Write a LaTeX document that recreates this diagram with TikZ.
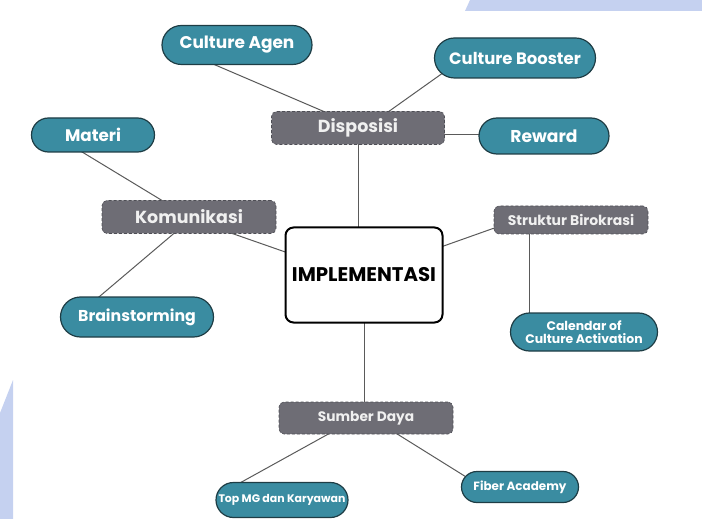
\documentclass[tikz,border=0pt]{standalone}
\usepackage{fontspec}
\setmainfont{Poppins}
\usetikzlibrary{shapes.misc,calc,backgrounds}
\definecolor{tealbox}{HTML}{3A8CA1}
\definecolor{tealedge}{HTML}{1E3D45}
\definecolor{graybox}{HTML}{6E6D75}
\definecolor{grayedge}{HTML}{4E4E55}
\definecolor{bgblue}{HTML}{C5D1F0}
\definecolor{linkc}{HTML}{5A5A5A}
\begin{document}
\begin{tikzpicture}[x=1bp,y=-1bp,
  tealnode/.style={rounded rectangle, fill=tealbox, draw=tealedge, line width=1.2bp, text=white, inner sep=0pt},
  graynode/.style={rectangle, rounded corners=5bp, fill=graybox, draw=grayedge, densely dashed, line width=0.6bp, text=white!94!black, inner sep=0pt},
  mainnode/.style={rectangle, rounded corners=8bp, fill=white, draw=black, line width=2bp, inner sep=0pt},
  link/.style={draw=linkc, line width=1bp}]
\useasboundingbox (0,0) rectangle (702,519);
\fill[bgblue] (465,11) -- (470,0) -- (702,0) -- (702,11) -- cycle;
\fill[bgblue] (0,413) -- (13,380) -- (13,519) -- (0,519) -- cycle;

\node[mainnode, minimum width=157bp, minimum height=95bp, font=\bfseries\fontsize{19.8}{22}\selectfont] (impl) at (364,275) {IMPLEMENTASI};

\node[graynode, minimum width=173bp, minimum height=33bp, font=\bfseries\fontsize{17.5}{20}\selectfont] (dis) at (358,128) {Disposisi};
\node[graynode, minimum width=174bp, minimum height=33bp, font=\bfseries\fontsize{17.5}{20}\selectfont] (kom) at (189,217) {Komunikasi};
\node[graynode, minimum width=154bp, minimum height=28bp, font=\bfseries\fontsize{14}{16}\selectfont] (sb) at (571,220) {Struktur Birokrasi};
\node[graynode, minimum width=174bp, minimum height=32bp, font=\bfseries\fontsize{13.8}{16}\selectfont] (sd) at (366,418) {Sumber Daya};

\node[tealnode, minimum width=150bp, minimum height=39bp, font=\bfseries\fontsize{17}{20}\selectfont] (ca) at (237,45) {Culture Agen};
\node[tealnode, minimum width=161bp, minimum height=40bp, font=\bfseries\fontsize{16.5}{19}\selectfont] (cb) at (515,58) {Culture Booster};
\node[tealnode, minimum width=130bp, minimum height=36bp, font=\bfseries\fontsize{17.2}{20}\selectfont] (rw) at (544,136) {Reward};
\node[tealnode, minimum width=123bp, minimum height=34bp, font=\bfseries\fontsize{16.8}{19}\selectfont] (mat) at (93,135) {Materi};
\node[tealnode, minimum width=153bp, minimum height=40bp, font=\bfseries\fontsize{15.8}{18}\selectfont] (br) at (137,317) {Brainstorming};
\node[tealnode, minimum width=147bp, minimum height=38bp, font=\bfseries\fontsize{12.5}{13}\selectfont, align=center] (cal) at (584,332) {Calendar of\\Culture Activation};
\node[tealnode, minimum width=132bp, minimum height=35bp, font=\bfseries\fontsize{11}{12}\selectfont] (tm) at (282,500) {Top MG dan Karyawan};
\node[tealnode, minimum width=117bp, minimum height=31bp, font=\bfseries\fontsize{12}{14}\selectfont] (fa) at (520,487) {Fiber Academy};

\begin{scope}[on background layer]
\draw[link] ($(ca)+(-29.6,16.6)$) -- ($(dis)+(-27.4,-13.6)$);
\draw[link] ($(dis)+(24.8,-12.3)$) -- ($(cb)+(-69.8,13.3)$);
\draw[link] ($(dis)+(82,7)$) -- ($(rw)+(-59,-1)$);
\draw[link] ($(dis)+(0,10)$) -- ($(impl)+(-6,-40)$);
\draw[link] ($(mat)+(-15,14.5)$) -- ($(kom)+(-22,-13.5)$);
\draw[link] ($(kom)+(-12,13.8)$) -- ($(br)+(-44,-15)$);
\draw[link] ($(kom)+(39,15)$) -- ($(impl)+(-73,-21)$);
\draw[link] ($(impl)+(74,-27)$) -- ($(sb)+(-71,6)$);
\draw[link] ($(sb)+(-42,5)$) -- ($(cal)+(-55,-10)$);
\draw[link] ($(impl)+(0,40)$) -- ($(sd)+(-2,-8)$);
\draw[link] ($(sd)+(-34,14)$) -- ($(tm)+(-44,-16)$);
\draw[link] ($(sd)+(28,14)$) -- ($(fa)+(-49,-7)$);
\end{scope}
\end{tikzpicture}
\end{document}
